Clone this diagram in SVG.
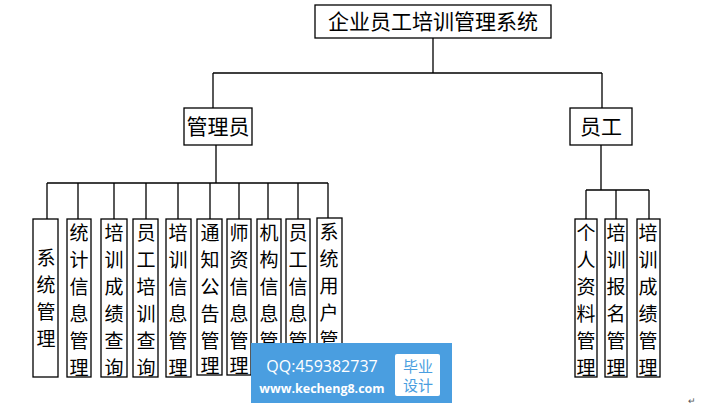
<svg xmlns="http://www.w3.org/2000/svg" width="702" height="409" viewBox="0 0 702 409">
<style>
rect.n{fill:#fff;stroke:#000;stroke-width:1.3}
text{font-family:"Noto Sans CJK SC","Liberation Serif",serif;font-size:21px;fill:#000;text-anchor:middle}
g.v text{font-size:19px}
.c{fill:none;stroke:#000;stroke-width:1.3}
</style>
<rect width="702" height="409" fill="#fff"/>
<g id="connectors" class="c">
<path d="M433 38V73M213 73H602M213 73V108M602 73V108"/>
<path d="M216 145V183M47 183H328M47 183V219M78 183V219M114 183V219M146 183V219M178 183V219M210 183V219M239 183V219M268 183V219M298 183V219M328 183V218"/>
<path d="M601 145V190M586 190H649M586 190V219M616 190V219M649 190V219"/>
</g>
<g id="root"><rect class="n" x="315" y="5" width="236" height="33"/><text x="433" y="29">企业员工培训管理系统</text></g>
<g id="admin"><rect class="n" x="184" y="108" width="68" height="37"/><text x="218" y="134">管理员</text></g>
<g id="staff"><rect class="n" x="570" y="108" width="62" height="37"/><text x="601" y="134">员工</text></g>
<g class="v">
<g id="n1"><rect class="n" x="33" y="219" width="25" height="158"/><text x="46"><tspan x="46" y="265">系</tspan><tspan x="46" y="292">统</tspan><tspan x="46" y="319">管</tspan><tspan x="46" y="346">理</tspan></text></g>
<g id="n2"><rect class="n" x="67" y="219" width="24" height="158"/><text><tspan x="79" y="240">统</tspan><tspan x="79" y="267">计</tspan><tspan x="79" y="294">信</tspan><tspan x="79" y="321">息</tspan><tspan x="79" y="348">管</tspan><tspan x="79" y="375">理</tspan></text></g>
<g id="n3"><rect class="n" x="101" y="219" width="26" height="158"/><text><tspan x="114" y="240">培</tspan><tspan x="114" y="267">训</tspan><tspan x="114" y="294">成</tspan><tspan x="114" y="321">绩</tspan><tspan x="114" y="348">查</tspan><tspan x="114" y="375">询</tspan></text></g>
<g id="n4"><rect class="n" x="133" y="219" width="25" height="158"/><text><tspan x="146" y="240">员</tspan><tspan x="146" y="267">工</tspan><tspan x="146" y="294">培</tspan><tspan x="146" y="321">训</tspan><tspan x="146" y="348">查</tspan><tspan x="146" y="375">询</tspan></text></g>
<g id="n5"><rect class="n" x="166" y="219" width="25" height="158"/><text><tspan x="178" y="240">培</tspan><tspan x="178" y="267">训</tspan><tspan x="178" y="294">信</tspan><tspan x="178" y="321">息</tspan><tspan x="178" y="348">管</tspan><tspan x="178" y="375">理</tspan></text></g>
<g id="n6"><rect class="n" x="197" y="219" width="25" height="156"/><text><tspan x="210" y="240">通</tspan><tspan x="210" y="267">知</tspan><tspan x="210" y="294">公</tspan><tspan x="210" y="321">告</tspan><tspan x="210" y="348">管</tspan><tspan x="210" y="373">理</tspan></text></g>
<g id="n7"><rect class="n" x="227" y="219" width="24" height="156"/><text><tspan x="239" y="240">师</tspan><tspan x="239" y="267">资</tspan><tspan x="239" y="294">信</tspan><tspan x="239" y="321">息</tspan><tspan x="239" y="348">管</tspan><tspan x="239" y="373">理</tspan></text></g>
<g id="n8"><rect class="n" x="257" y="219" width="24" height="156"/><text><tspan x="269" y="240">机</tspan><tspan x="269" y="267">构</tspan><tspan x="269" y="294">信</tspan><tspan x="269" y="321">息</tspan><tspan x="269" y="348">管</tspan></text></g>
<g id="n9"><rect class="n" x="286" y="219" width="24" height="156"/><text><tspan x="298" y="240">员</tspan><tspan x="298" y="267">工</tspan><tspan x="298" y="294">信</tspan><tspan x="298" y="321">息</tspan><tspan x="298" y="348">管</tspan></text></g>
<g id="n10"><rect class="n" x="317" y="218" width="25" height="157"/><text><tspan x="329" y="239">系</tspan><tspan x="329" y="266">统</tspan><tspan x="329" y="293">用</tspan><tspan x="329" y="320">户</tspan><tspan x="329" y="347">管</tspan></text></g>
<g id="r1"><rect class="n" x="575" y="219" width="22" height="158"/><text><tspan x="586" y="240">个</tspan><tspan x="586" y="267">人</tspan><tspan x="586" y="294">资</tspan><tspan x="586" y="321">料</tspan><tspan x="586" y="348">管</tspan><tspan x="586" y="375">理</tspan></text></g>
<g id="r2"><rect class="n" x="605" y="219" width="22" height="158"/><text><tspan x="616" y="240">培</tspan><tspan x="616" y="267">训</tspan><tspan x="616" y="294">报</tspan><tspan x="616" y="321">名</tspan><tspan x="616" y="348">管</tspan><tspan x="616" y="375">理</tspan></text></g>
<g id="r3"><rect class="n" x="637" y="219" width="23" height="158"/><text><tspan x="648" y="240">培</tspan><tspan x="648" y="267">训</tspan><tspan x="648" y="294">成</tspan><tspan x="648" y="321">绩</tspan><tspan x="648" y="348">管</tspan><tspan x="648" y="375">理</tspan></text></g>
</g>
<g id="watermark">
<rect x="251" y="343" width="201" height="60" fill="#4a9ee0"/>
<rect x="395" y="354" width="45" height="42" rx="2" fill="#fff"/>
<text x="322" y="372" style="font-family:'Open Sans','Liberation Sans',sans-serif;font-size:16px;fill:#fff">QQ:459382737</text>
<text x="322" y="393" style="font-family:'Open Sans','Liberation Sans',sans-serif;font-size:12.5px;font-weight:bold;fill:#fff">www.kecheng8.com</text>
<text x="418" y="372" style="font-size:15px;fill:#4a9ee0">毕业</text>
<text x="418" y="391" style="font-size:15px;fill:#4a9ee0">设计</text>
</g>
<text x="692" y="404" style="font-size:9px;fill:#555">↵</text>
</svg>
